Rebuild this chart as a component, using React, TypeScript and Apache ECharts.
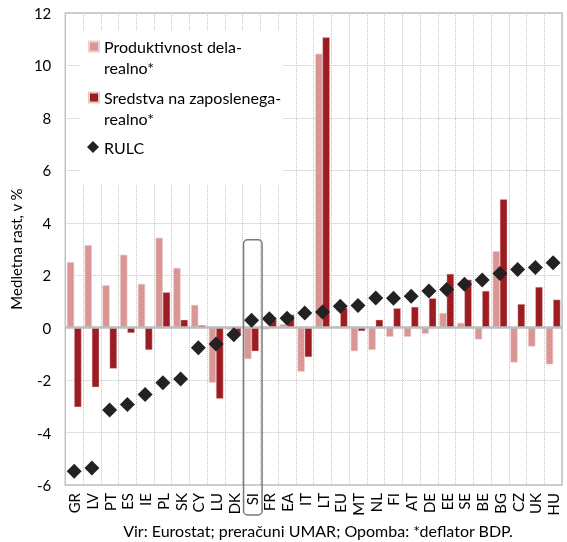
import React, { useEffect, useRef } from "react";
import * as echarts from "echarts";

const categories = ["GR","LV","PT","ES","IE","PL","SK","CY","LU","DK","SI","FR","EA","IT","LT","EU","MT","NL","FI","AT","DE","EE","SE","BE","BG","CZ","UK","HU"];
const productivity = [2.5, 3.15, 1.62, 2.78, 1.67, 3.43, 2.28, 0.87, -2.1, -0.08, -1.2, -0.07, 0.13, -1.68, 10.45, 0.05, -0.9, -0.85, -0.35, -0.35, -0.23, 0.56, 0.18, -0.45, 2.92, -1.33, -0.72, -1.4];
const compensation = [-3.03, -2.27, -1.56, -0.2, -0.85, 1.35, 0.3, 0.09, -2.71, -0.25, -0.9, 0.3, 0.5, -1.12, 11.07, 0.75, -0.13, 0.3, 0.74, 0.79, 1.12, 2.05, 1.83, 1.4, 4.9, 0.9, 1.55, 1.07];
const rulc = [-5.48, -5.35, -3.14, -2.93, -2.55, -2.1, -1.96, -0.77, -0.62, -0.27, 0.28, 0.34, 0.36, 0.56, 0.6, 0.82, 0.85, 1.13, 1.12, 1.2, 1.4, 1.46, 1.66, 1.82, 2.07, 2.22, 2.29, 2.48];
const yTicks = { min: -6, max: 12, interval: 2 };

const seriesNames = ["Produktivnost dela-\nrealno*", "Sredstva na zaposlenega-\nrealno*", "RULC"];
const highlighted = "SI";
const footnote = "Vir: Eurostat; preračuni UMAR; Opomba: *deflator BDP.";
const yName = "Medletna rast, v %";

const FONT = "Lato";
const LIGHT = "#D99694";
const DARK = "#9C1C22";
const MARK = "#222222";

export default function App() {
  const ref = useRef<HTMLDivElement>(null);
  useEffect(() => {
    if (!ref.current) return;
    const chart = echarts.init(ref.current, null, { renderer: "svg" });
    const legendText = { fontFamily: FONT, fontSize: 16, color: "#000", lineHeight: 21 };
    const firstLineOnIcon = (n: string) => " \n" + n;
    const option: any = {
      animation: false,
      textStyle: { fontFamily: FONT },
      grid: { left: 65, right: 5, top: 13, bottom: 57, show: true, borderColor: "#c0c0c0", borderWidth: 1.5 },
      legend: [
        { data: [seriesNames[0]], left: 83, top: 10, orient: "vertical", itemWidth: 10, itemHeight: 10, textStyle: legendText, icon: "rect", formatter: firstLineOnIcon },
        { data: [seriesNames[1]], left: 83, top: 61, orient: "vertical", itemWidth: 10, itemHeight: 10, textStyle: legendText, icon: "rect", formatter: firstLineOnIcon },
        { data: [seriesNames[2]], left: 82, top: 134, orient: "vertical", itemWidth: 12, itemHeight: 12, textStyle: { fontFamily: FONT, fontSize: 16, color: "#000" }, icon: "diamond" },
      ],
      xAxis: {
        type: "category",
        data: categories,
        axisLine: { show: false, onZero: false },
        axisTick: { show: false },
        splitLine: { show: true, interval: 0, lineStyle: { color: "#c4c4c4", type: "dotted", width: 1 } },
        axisLabel: { rotate: 90, interval: 0, fontSize: 15, fontFamily: FONT, color: "#000", margin: 8 },
      },
      yAxis: {
        type: "value",
        min: yTicks.min,
        max: yTicks.max,
        interval: yTicks.interval,
        name: yName,
        nameLocation: "middle",
        nameGap: 30,
        nameTextStyle: { fontFamily: FONT, fontSize: 15, color: "#000" },
        axisLine: { show: false },
        axisTick: { show: false },
        splitLine: { show: true, lineStyle: { color: "#c4c4c4", type: "dotted", width: 1 } },
        axisLabel: { fontSize: 15, fontFamily: FONT, color: "#000", margin: 14 },
      },
      series: [
        {
          name: seriesNames[0],
          type: "bar",
          data: productivity,
          itemStyle: { color: LIGHT, borderColor: "#EDCFCE", borderWidth: 0.6 },
          barGap: "0%",
          barCategoryGap: "18%",
          markLine: {
            silent: true,
            symbol: "none",
            label: { show: false },
            lineStyle: { color: "#bdbdbd", type: "solid", width: 2.5 },
            data: [{ yAxis: 0 }],
          },
        },
        {
          name: seriesNames[1],
          type: "bar",
          data: compensation,
          itemStyle: { color: DARK, borderColor: "#E8C9C9", borderWidth: 0.4 },
          barGap: "0%",
          barCategoryGap: "18%",
        },
        {
          name: seriesNames[2],
          type: "scatter",
          data: rulc,
          symbol: "diamond",
          symbolSize: 15,
          itemStyle: { color: MARK, opacity: 1 },
          z: 5,
        },
      ],
    };
    chart.setOption(option);
    const [cx] = chart.convertToPixel({ xAxisIndex: 0, yAxisIndex: 0 }, [highlighted, 0]);
    const [, ty] = chart.convertToPixel({ xAxisIndex: 0, yAxisIndex: 0 }, [highlighted, 3.35]);
    const h = chart.getHeight();
    chart.setOption({
      graphic: [
        { type: "rect", z: 3, silent: true, shape: { x: 80, y: 30, width: 203, height: 155 }, style: { fill: "#fff" } },
        {
          type: "rect",
          z: 10,
          silent: true,
          shape: { x: cx - 8, y: ty, width: 18.5, height: h - 27 - ty, r: 4 },
          style: { fill: "none", stroke: "#7a7a7a", lineWidth: 1.5 },
        },
        {
          type: "text",
          x: 318,
          y: 530,
          style: { text: footnote, fontFamily: FONT, fontSize: 16, fill: "#000", textAlign: "center", textVerticalAlign: "middle" },
        },
      ],
    });
    return () => chart.dispose();
  }, []);
  return <div ref={ref} style={{ position: "fixed", left: 0, top: 0, width: 567, height: 542 }} />;
}
